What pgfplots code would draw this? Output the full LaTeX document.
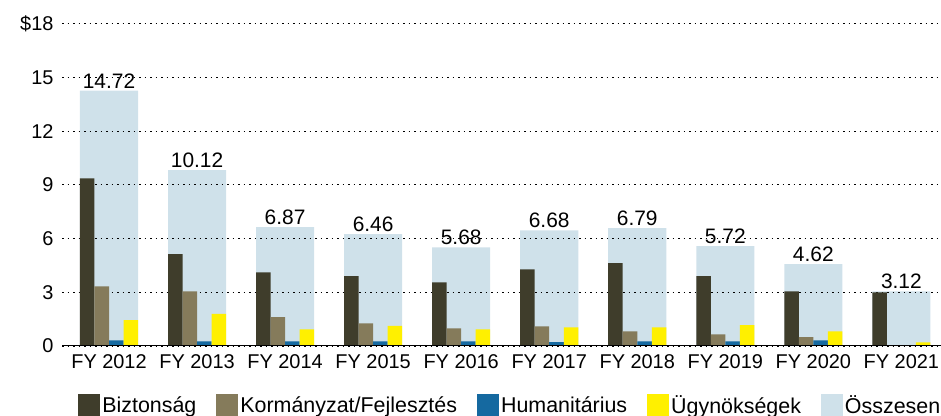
\documentclass[border=0pt]{standalone}
\usepackage{pgfplots}
\pgfplotsset{compat=1.18}
\usepackage{pgfplotstable}
\usepackage{fontspec}
\setmainfont{Liberation Sans}

\definecolor{cBiz}{HTML}{3F3D2B}
\definecolor{cKor}{HTML}{857B5B}
\definecolor{cHum}{HTML}{1569A0}
\definecolor{cUgy}{HTML}{FFF000}
\definecolor{cOssz}{HTML}{CFE1EA}

% bar heights as drawn; lab = printed total
\pgfplotstableread{
x bizt korm hum ugy ossz lab
0 9.37 3.34 0.32 1.44 14.27 14.72
1 5.13 3.06 0.26 1.79 9.83 10.12
2 4.12 1.61 0.26 0.93 6.64 6.87
3 3.90 1.27 0.26 1.12 6.25 6.46
4 3.56 0.99 0.26 0.93 5.52 5.68
5 4.29 1.10 0.21 1.04 6.47 6.68
6 4.63 0.82 0.26 1.04 6.59 6.79
7 3.90 0.65 0.26 1.16 5.58 5.72
8 3.06 0.49 0.32 0.82 4.57 4.62
9 3.00 0 0 0.20 3.06 3.12
}\data

\begin{document}
\begin{tikzpicture}
\begin{axis}[
    set layers,
    scale only axis,
    width=879bp, height=322bp,
    xmin=-0.534, xmax=9.45,
    ymin=0, ymax=18,
    ybar,
    ytick={0,3,...,18},
    yticklabels={0,3,6,9,12,15,\$18},
    xtick={0,...,9},
    xticklabels={FY 2012,FY 2013,FY 2014,FY 2015,FY 2016,FY 2017,FY 2018,FY 2019,FY 2020,FY 2021},
    major tick length=0pt,
    axis line style={draw=none},
    ymajorgrids,
    grid style={black, line width=1bp, dash pattern=on 1.5bp off 4bp},
    tick label style={font=\fontsize{20}{23}\selectfont},
    yticklabel style={xshift=-5bp},
    xticklabel style={yshift=-5bp},
    legend columns=5,
    legend style={at={(0.51,-0.183)}, anchor=center, draw=none,
        font=\fontsize{21.5}{24}\selectfont,
        /tikz/every even column/.append style={column sep=18bp}},
    legend image code/.code={\fill[#1] (0bp,-11bp) rectangle (22bp,11bp);},
]
% totals, behind the grid
\addplot[on layer=axis background, fill=cOssz, draw=none, bar width=0.66, bar shift=0,
    nodes near coords, point meta=explicit symbolic,
    every node near coord/.append style={font=\fontsize{21}{24}\selectfont, black, anchor=south, inner sep=2.5bp},
    forget plot] table[x=x, y=ossz, meta=lab] {\data};

\addplot[fill=cBiz, draw=none, bar width=0.165, bar shift=-0.2475] table[x=x, y=bizt] {\data};
\addlegendentry{Biztonság}
\addplot[fill=cKor, draw=none, bar width=0.165, bar shift=-0.0825] table[x=x, y=korm] {\data};
\addlegendentry{Kormányzat/Fejlesztés}
\addplot[fill=cHum, draw=none, bar width=0.165, bar shift=0.0825] table[x=x, y=hum] {\data};
\addlegendentry{Humanitárius}
\addplot[fill=cUgy, draw=none, bar width=0.165, bar shift=0.2475] table[x=x, y=ugy] {\data};
\addlegendentry{Ügynökségek}
\addlegendimage{fill=cOssz, draw=none}
\addlegendentry{Összesen}

\draw[line width=3bp, black] ([yshift=-1bp]rel axis cs:0,0) -- ([yshift=-1bp]rel axis cs:1,0);
\coordinate (bl) at (rel axis cs:0,0);
\coordinate (tr) at (rel axis cs:1,1);
\end{axis}
\pgfresetboundingbox
\path[use as bounding box] ([shift={(-62bp,-70bp)}]bl) rectangle ([shift={(0bp,24bp)}]tr);
\end{tikzpicture}
\end{document}
